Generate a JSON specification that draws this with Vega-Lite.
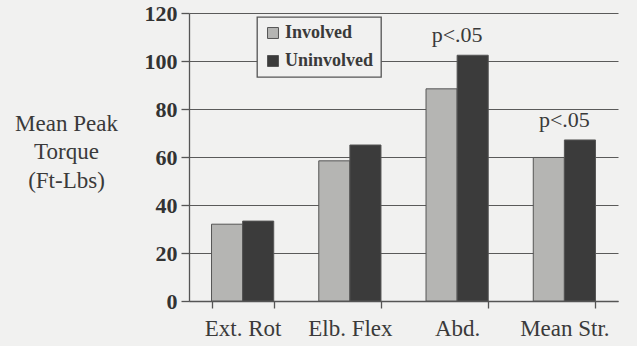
{
  "$schema": "https://vega.github.io/schema/vega-lite/v6.json",
  "width": 429,
  "height": 288,
  "autosize": {"type": "none"},
  "padding": {"left": 189, "top": 13, "right": 19, "bottom": 45},
  "background": "#f1f1f0",
  "config": {
    "view": {"stroke": null},
    "font": "Liberation Serif"
  },
  "layer": [
    {
      "data": {
        "values": [
          {"exercise": "Ext. Rot", "side": "Involved", "torque": 32},
          {"exercise": "Ext. Rot", "side": "Uninvolved", "torque": 33.3},
          {"exercise": "Elb. Flex", "side": "Involved", "torque": 58.4},
          {"exercise": "Elb. Flex", "side": "Uninvolved", "torque": 65},
          {"exercise": "Abd.", "side": "Involved", "torque": 88.4},
          {"exercise": "Abd.", "side": "Uninvolved", "torque": 102.4},
          {"exercise": "Mean Str.", "side": "Involved", "torque": 59.8},
          {"exercise": "Mean Str.", "side": "Uninvolved", "torque": 67.1}
        ]
      },
      "mark": {"type": "bar", "stroke": "#555555", "strokeWidth": 1},
      "encoding": {
        "x": {
          "field": "exercise",
          "type": "nominal",
          "sort": ["Ext. Rot", "Elb. Flex", "Abd.", "Mean Str."],
          "scale": {"paddingInner": 0.42, "paddingOuter": 0.21},
          "axis": {
            "title": null,
            "labelAngle": 0,
            "labelFont": "Liberation Serif",
            "labelFontSize": 23,
            "labelColor": "#3a3a3a",
            "labelPadding": 9,
            "tickBand": "extent",
            "tickSize": 7,
            "tickColor": "#555555",
            "tickWidth": 1.3,
            "domainColor": "#555555",
            "domainWidth": 1.3,
            "grid": false
          }
        },
        "xOffset": {
          "field": "side",
          "type": "nominal",
          "scale": {"domain": ["Involved", "Uninvolved"], "paddingInner": 0, "paddingOuter": 0}
        },
        "y": {
          "field": "torque",
          "type": "quantitative",
          "scale": {"domain": [0, 120]},
          "axis": {
            "values": [0, 20, 40, 60, 80, 100, 120],
            "title": ["Mean Peak", "Torque", "(Ft-Lbs)"],
            "titleAngle": 0,
            "titleAlign": "center",
            "titleBaseline": "alphabetic",
            "titleX": -123,
            "titleY": 117,
            "titleFont": "Liberation Serif",
            "titleFontSize": 23,
            "titleFontWeight": "normal",
            "titleColor": "#3a3a3a",
            "titleLineHeight": 28.5,
            "labelFont": "Liberation Serif",
            "labelFontSize": 22,
            "labelFontWeight": "bold",
            "labelColor": "#333333",
            "labelPadding": 4,
            "tickSize": 8,
            "tickColor": "#555555",
            "tickWidth": 1.3,
            "domainColor": "#555555",
            "domainWidth": 1.3,
            "grid": true,
            "gridColor": "#5a5a5a",
            "gridWidth": 1.2
          }
        },
        "color": {
          "field": "side",
          "type": "nominal",
          "scale": {"domain": ["Involved", "Uninvolved"], "range": ["#b5b5b3", "#3b3b3b"]},
          "legend": {
            "title": null,
            "orient": "none",
            "legendX": 68,
            "legendY": 4,
            "direction": "vertical",
            "symbolType": "square",
            "symbolSize": 120,
            "symbolStrokeColor": "#555555",
            "symbolStrokeWidth": 1,
            "labelFont": "Liberation Serif",
            "labelFontSize": 18,
            "labelFontWeight": "bold",
            "labelColor": "#3a3a3a",
            "labelOffset": 3,
            "rowPadding": 10,
            "padding": 7,
            "strokeColor": "#555555",
            "fillColor": "#f1f1f0",
            "encode": {"legend": {"update": {"strokeWidth": {"value": 1.3}}}}
          }
        }
      }
    },
    {
      "data": {
        "values": [
          {"exercise": "Abd.", "torque": 102.4, "note": "p<.05"},
          {"exercise": "Mean Str.", "torque": 67.1, "note": "p<.05"}
        ]
      },
      "mark": {
        "type": "text",
        "font": "Liberation Serif",
        "fontSize": 22,
        "color": "#3a3a3a",
        "baseline": "alphabetic",
        "dy": -13
      },
      "encoding": {
        "x": {"field": "exercise", "type": "nominal", "sort": ["Ext. Rot", "Elb. Flex", "Abd.", "Mean Str."]},
        "y": {"field": "torque", "type": "quantitative"},
        "text": {"field": "note", "type": "nominal"}
      }
    }
  ]
}
